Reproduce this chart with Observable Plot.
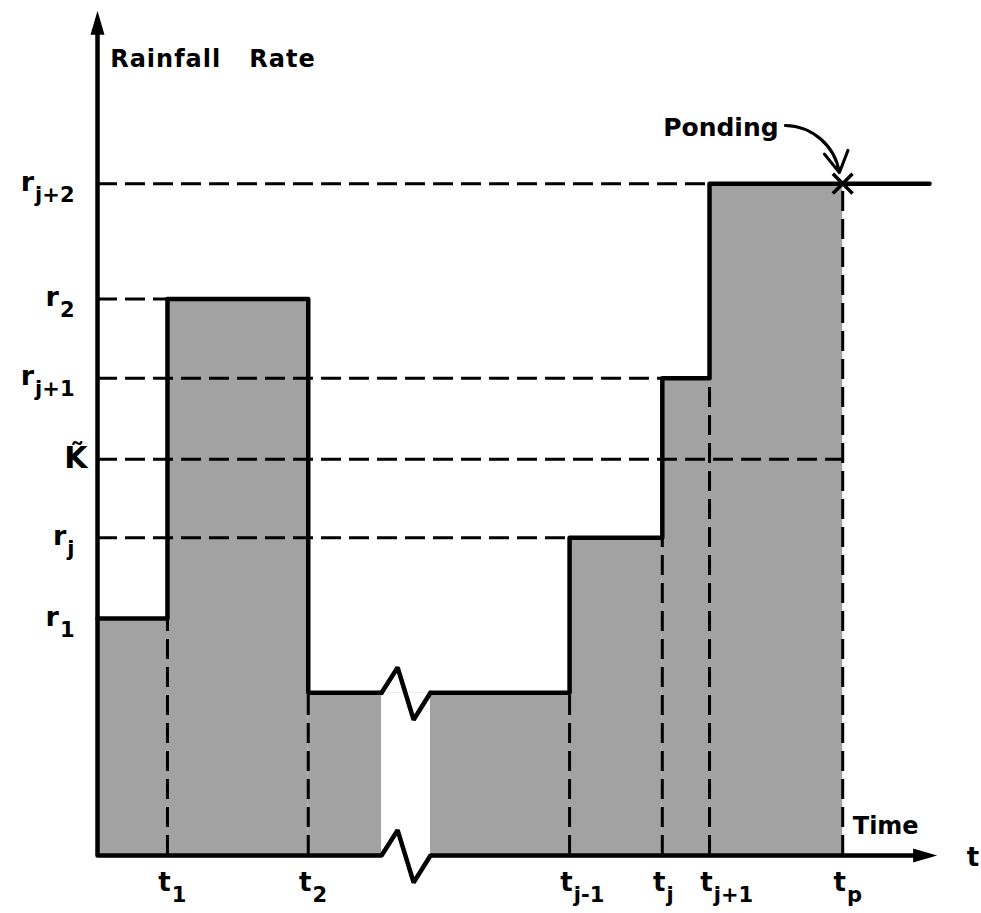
<!DOCTYPE html>
<html><head><meta charset="utf-8">
<script src="https://cdn.jsdelivr.net/npm/d3@7"></script>
<script src="https://cdn.jsdelivr.net/npm/@observablehq/plot@0.6"></script>
<style>body{margin:0;background:#fff}</style>
</head><body><div id="chart"></div>
<script>
// ---- data (axis units 0..100 on both axes) ----
const tickT   = [8.3, 25, 56, 67, 72.6, 88.4];            // t1, t2, t(j-1), tj, t(j+1), tp
const tickSub = ["1", "2", "j-1", "j", "j+1", "p"];
const stepStart = [0, 8.3, 25, 56, 67, 72.6];
const stepEnd   = [8.3, 25, 56, 67, 72.6, 88.4];
const stepRate  = [28.1, 66, 19.3, 37.7, 56.6, 79.7];
const rateLineEnd = 98.7;                                  // rate line after ponding
const levelY    = [79.7, 66, 56.6, 47, 37.7, 28.1];
const levelMain = ["r", "r", "r", "K\u0303", "r", "r"];
const levelSub  = ["j+2", "2", "j+1", "", "j", "1"];
const guideY    = [79.7, 66, 56.6, 47, 37.7];              // horizontal dashed guides
const guideEnd  = [72.6, 8.3, 67, 88.4, 56];
const vGuideTop = [28.1, 19.3, 19.3, 37.7, 56.6, 79.7];    // vertical dashed guides
const breakX    = [33.7, 35.6, 37.5, 39.5];                // axis break zig-zag
const breakOff  = [0, 3, -3.2, 0];
const pondPoint = [{x: 88.4, y: 79.7}];
const pondArrow = [{x1: 81.6, y1: 86.6, x2: 88.0, y2: 81.0}];

// ---- derived tables ----
const steps = stepStart.map((s, i) => ({start: s, end: stepEnd[i], rate: stepRate[i]}));
const low = stepRate[2];
const brk = breakX.map((x, i) => ({x, off: breakOff[i]}));
const outlineA = [0, 1, 2].map(i => ({x: stepStart[i], y: stepRate[i]})).concat([{x: breakX[0], y: low}]);
const outlineB = [{x: breakX[3], y: low}].concat([3, 4, 5].map(i => ({x: stepStart[i], y: stepRate[i]})))
  .concat([{x: rateLineEnd, y: stepRate[5]}]);
const zigTop = brk.map(d => ({x: d.x, y: low + d.off}));
const xAxisLine = [{x: 0, y: 0}].concat(brk.map(d => ({x: d.x, y: d.off}))).concat([{x: 97.5, y: 0}]);
const guides = guideY.map((y, i) => ({y, end: guideEnd[i]}));
const vGuides = tickT.map((t, i) => ({t, top: vGuideTop[i], sub: tickSub[i]}));

const FONT = "DejaVu Sans";
const ctx = document.createElement("canvas").getContext("2d");
const tw = (s, size) => { ctx.font = `bold ${size}px "${FONT}"`; return ctx.measureText(s).width; };

const arrowSym = {draw(c) { c.moveTo(0, 0); c.lineTo(7, 24); c.lineTo(-7, 24); c.closePath(); }};
const dash = {stroke: "black", strokeWidth: 3, strokeDasharray: "20,8"};

const yLabelMarks = [];
levelY.forEach((y, i) => {
  if (levelSub[i] === "") {
    yLabelMarks.push(Plot.text([{y, s: levelMain[i]}], {x: 0, y: "y", text: "s", textAnchor: "end", lineAnchor: "bottom", dx: -10, dy: 9, fontSize: 30}));
  } else {
    const sw = tw(levelSub[i], 21);
    yLabelMarks.push(Plot.text([{y, s: levelSub[i]}], {x: 0, y: "y", text: "s", textAnchor: "end", lineAnchor: "bottom", dx: -23, dy: 18, fontSize: 21}));
    yLabelMarks.push(Plot.text([{y, s: levelMain[i]}], {x: 0, y: "y", text: "s", textAnchor: "end", lineAnchor: "bottom", dx: -23 - sw - 1, dy: 7, fontSize: 27}));
  }
});

const tW = tw("t", 26);
const svg = Plot.plot({
  width: 981, height: 913,
  marginLeft: 97, marginRight: 41, marginTop: 12, marginBottom: 58,
  x: {domain: [0, 100], axis: null},
  y: {domain: [0, 100], axis: null},
  style: {fontFamily: FONT, fontWeight: "bold", background: "white", overflow: "visible"},
  marks: [
    Plot.rect(steps, {x1: "start", x2: "end", y1: 0, y2: "rate", fill: "#a2a2a2"}),
    Plot.rect([{a: breakX[0], b: breakX[3]}], {x1: "a", x2: "b", y1: 0, y2: low, fill: "white"}),
    Plot.ruleY(guides, {y: "y", x1: 0, x2: "end", ...dash}),
    Plot.ruleX(vGuides, {x: "t", y1: 0, y2: "top", ...dash}),
    Plot.line(outlineA, {x: "x", y: "y", curve: "step-after", stroke: "black", strokeWidth: 4.5}),
    Plot.line(zigTop, {x: "x", y: "y", stroke: "black", strokeWidth: 4.5, strokeLinejoin: "miter"}),
    Plot.line(outlineB, {x: "x", y: "y", curve: "step-after", stroke: "black", strokeWidth: 4.5}),
    Plot.line(xAxisLine, {x: "x", y: "y", stroke: "black", strokeWidth: 4.5, strokeLinejoin: "miter"}),
    Plot.ruleX([0], {y1: 0, y2: 98, stroke: "black", strokeWidth: 4.5}),
    Plot.dot([{x: 0, y: 100.2}], {x: "x", y: "y", symbol: arrowSym, r: 5, fill: "black", stroke: "none"}),
    Plot.dot([{x: 99.6, y: 0}], {x: "x", y: "y", symbol: arrowSym, r: 5, fill: "black", stroke: "none", rotate: 90}),
    Plot.arrow(pondArrow, {x1: "x1", y1: "y1", x2: "x2", y2: "y2", bend: 40, headLength: 12, stroke: "black", strokeWidth: 3}),
    Plot.dot(pondPoint, {x: "x", y: "y", symbol: "times", r: 9, stroke: "black", strokeWidth: 3.5}),
    ...yLabelMarks,
    Plot.text(vGuides, {x: "t", y: 0, text: () => "t", textAnchor: "middle", lineAnchor: "bottom", dx: -3, dy: 35, fontSize: 26}),
    Plot.text(vGuides, {x: "t", y: 0, text: "sub", textAnchor: "start", lineAnchor: "bottom", dx: -3 + tW / 2 + 1, dy: 46, fontSize: 21}),
    Plot.text([{x: 104.6, y: 0}], {x: "x", y: "y", text: () => "t", textAnchor: "end", lineAnchor: "bottom", dy: 10, fontSize: 26}),
    Plot.text([{x: 93.5, y: 0}], {x: "x", y: "y", text: () => "Time", textAnchor: "middle", lineAnchor: "bottom", dy: -22, fontSize: 24}),
    Plot.text([{x: 1.5, y: 93.5}], {x: "x", y: "y", text: () => "Rainfall\u00a0\u00a0\u00a0Rate", textAnchor: "start", lineAnchor: "bottom", fontSize: 24}),
    Plot.text([{x: 80.8, y: 85.4}], {x: "x", y: "y", text: () => "Ponding", textAnchor: "end", lineAnchor: "bottom", fontSize: 25})
  ]
});
svg.querySelectorAll("text").forEach(t => {
  if (t.textContent.startsWith("Rainfall")) t.setAttribute("letter-spacing", "1");
});
document.getElementById("chart").append(svg);
</script>
</body></html>
